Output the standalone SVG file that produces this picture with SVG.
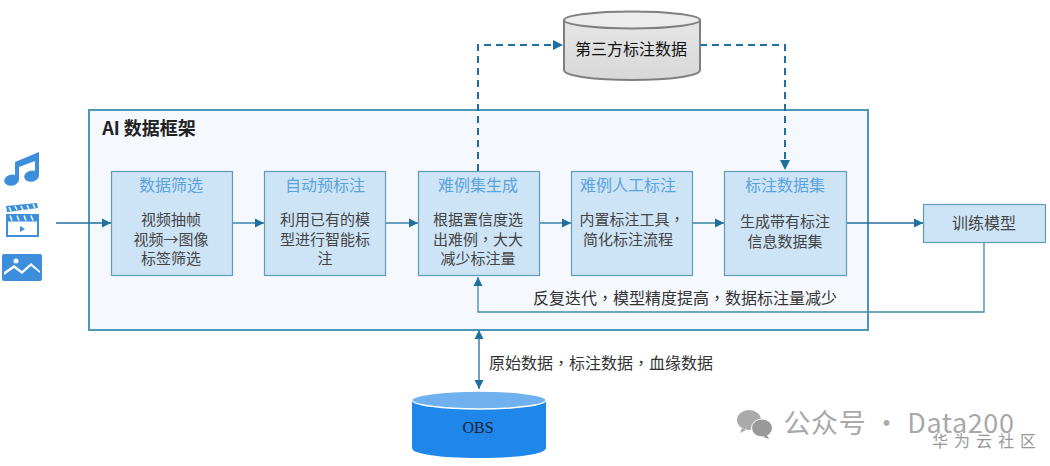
<svg xmlns="http://www.w3.org/2000/svg" width="1050" height="466" viewBox="0 0 1050 466">
<style>
text{font-family:"Noto Sans CJK SC","Liberation Sans",sans-serif;text-anchor:middle}
.c{font-family:"Noto Sans CJK TC",sans-serif}
.box{fill:#cde3f6;stroke:#5f9db8;stroke-width:1.2}
.ttl{font-size:16px;fill:#5ba3dc}
.bd{font-size:15px;fill:#444}
.lbl{font-size:16px;fill:#333}
.ln{fill:none;stroke:#1f6f9f;stroke-width:1.3}
.ds{fill:none;stroke:#1f6f9f;stroke-width:2;stroke-dasharray:7 5}
.ic{fill:#3d8fdc}
</style>
<defs>
<marker id="a" markerUnits="userSpaceOnUse" markerWidth="10" markerHeight="10" refX="9" refY="5" orient="auto"><path d="M0 0.5L9 5L0 9.5z" fill="#1f6f9f"/></marker>
<marker id="b" markerUnits="userSpaceOnUse" markerWidth="10" markerHeight="10" refX="1" refY="5" orient="auto"><path d="M9 0.5L0 5L9 9.5z" fill="#1f6f9f"/></marker>
<linearGradient id="g" x1="0" y1="0" x2="0" y2="1"><stop offset="0" stop-color="#e6e6e6"/><stop offset="1" stop-color="#d8d8d8"/></linearGradient>
</defs>
<rect width="1050" height="466" fill="#fff"/>
<g id="frame">
<rect x="89" y="110" width="779" height="220" fill="#f5f8fd" stroke="#4f95b5" stroke-width="2"/>
<text x="149" y="135" style="font-size:18px;font-weight:700;fill:#222">AI 数据框架</text>
</g>
<g id="icons">
<g id="icon-music" class="ic"><path d="M15 162L39 152V176A7.500 5.500 -10 1 1 35 171V161L19 167V180A7.500 5.500 -10 1 1 15 175z"/></g>
<g id="icon-video"><rect x="7" y="215" width="31" height="21" fill="#fff" stroke="#3d8fdc" stroke-width="2"/><rect x="6" y="214.500" width="33" height="7" fill="#3d8fdc"/><path d="M6 206L37 203L38 208L7 212z" fill="#3d8fdc"/><path d="M9 207l2 4M15 206l2 4M21 206l2 4M27 205l2 4M33 204l2 4M10 215.500l2 5M17 215.500l2 5M24 215.500l2 5M31 215.500l2 5" stroke="#fff" stroke-width="1.500"/><path d="M20 226L25 229L20 232z" fill="#3d8fdc"/></g>
<g id="icon-image"><rect x="2" y="254" width="40" height="27" rx="2" fill="#3d8fdc"/><circle cx="16" cy="261" r="2.500" fill="#fff"/><path d="M4 272L14 265L22 271L31 263L40 271V273L31 266L22 274L14 268L4 275z" fill="#fff"/></g>
</g>
<g id="connectors">
<path class="ln" d="M56 223H111" marker-end="url(#a)"/>
<path class="ln" d="M233 223H264" marker-end="url(#a)"/>
<path class="ln" d="M386 223H418" marker-end="url(#a)"/>
<path class="ln" d="M540 223H571" marker-end="url(#a)"/>
<path class="ln" d="M693 223H724" marker-end="url(#a)"/>
<path class="ln" d="M847 223H923" marker-end="url(#a)"/>
<path class="ln" d="M984 242V312H478V277" marker-end="url(#a)" style="stroke:#3f8aa8"/>
<path class="ln" d="M479 331V389" marker-start="url(#b)" marker-end="url(#a)"/>
<path class="ds" d="M478 171V45H552"/>
<path d="M553 40L563 45L553 50z" fill="#1f6f9f"/>
<path class="ds" d="M700 45H785V161"/>
<path d="M780 160L785 170L790 160z" fill="#1f6f9f"/>
</g>
<g id="n1"><rect class="box" x="111.500" y="171.500" width="121" height="104"/><text class="ttl" x="171" y="191">数据筛选</text><text class="bd" x="171" y="225">视频抽帧</text><text class="bd" x="171" y="245">视频→图像</text><text class="bd" x="171" y="264">标签筛选</text></g>
<g id="n2"><rect class="box" x="264.500" y="171.500" width="121" height="104"/><text class="ttl" x="325" y="191">自动预标注</text><text class="bd" x="325" y="225">利用已有的模</text><text class="bd" x="325" y="245">型进行智能标</text><text class="bd" x="325" y="264">注</text></g>
<g id="n3"><rect class="box" x="418.500" y="171.500" width="121" height="104"/><text class="ttl" x="478" y="191">难例集生成</text><text class="bd" x="478" y="225">根据置信度选</text><text class="bd" x="478" y="245">出难例<tspan class="c">，</tspan>大大</text><text class="bd" x="478" y="264">减少标注量</text></g>
<g id="n4"><rect class="box" x="571.500" y="171.500" width="121" height="104"/><text class="ttl" x="628" y="191">难例人工标注</text><text class="bd" x="632" y="225">内置标注工具<tspan class="c">，</tspan></text><text class="bd" x="628" y="245">简化标注流程</text></g>
<g id="n5"><rect class="box" x="724.500" y="171.500" width="122" height="104"/><text class="ttl" x="785" y="191">标注数据集</text><text class="bd" x="785" y="227">生成带有标注</text><text class="bd" x="785" y="247">信息数据集</text></g>
<g id="n6"><rect class="box" x="923.500" y="204.500" width="122" height="38"/><text x="984" y="229" style="font-size:16px;fill:#444">训练模型</text></g>
<g id="third-party">
<path d="M564 20V70C564 76 594 80 632 80S700 76 700 70V20z" fill="url(#g)" stroke="#7f7f7f" stroke-width="2"/>
<ellipse cx="632" cy="20" rx="68" ry="8.500" fill="#ececec" stroke="#7f7f7f" stroke-width="2"/>
<text x="631" y="55" style="font-size:16px;fill:#111">第三方标注数据</text>
</g>
<g id="obs">
<path d="M412 400V448C412 454 440 458 479 458S546 454 546 448V400z" fill="#1f86ea"/>
<ellipse cx="479" cy="400" rx="67" ry="9" fill="#6fb0ef" stroke="#fff" stroke-width="1.500"/>
<text x="478" y="433" style="font-family:'Liberation Serif',serif;font-size:16px;fill:#123">OBS</text>
</g>
<g id="labels">
<text class="lbl" x="685" y="304">反复迭代<tspan class="c">，</tspan>模型精度提高<tspan class="c">，</tspan>数据标注量减少</text>
<text class="lbl" x="601" y="369">原始数据<tspan class="c">，</tspan>标注数据<tspan class="c">，</tspan>血缘数据</text>
</g>
<g id="watermark">
<ellipse cx="749" cy="420" rx="12" ry="10" fill="#aaa"/><path d="M742 428l-2 5 6-3z" fill="#aaa"/><ellipse cx="762" cy="428" rx="10.500" ry="9" fill="#999" stroke="#fff"/><path d="M767 435l2 4-6-2z" fill="#999"/>
<text x="899" y="433" style="font-size:27px;letter-spacing:.6px;fill:#a8a8a8">公众号 · Data200</text>
<text x="987" y="447" style="font-size:16px;letter-spacing:6px;fill:#999">华为云社区</text>
</g>
</svg>
